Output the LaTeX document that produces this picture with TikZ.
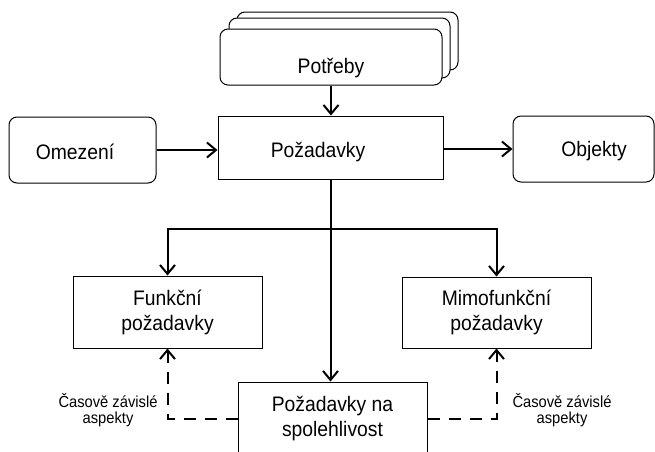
\documentclass[tikz,border=0pt]{standalone}
\usepackage{fontspec}
\setmainfont{Liberation Sans}[FakeStretch=0.92]
\usetikzlibrary{arrows.meta}
\tikzset{
  box/.style={draw=black, line width=1pt, fill=white, inner sep=0pt, align=center},
  rbox/.style={box, rounded corners=8pt},
  main/.style={font=\fontsize{21}{25}\selectfont},
  small/.style={font=\fontsize{16}{16.5}\selectfont, align=center, inner sep=0pt},
  arr/.style={line width=2pt, -{Straight Barb[length=9pt,width=15pt,line width=2pt]}},
  darr/.style={arr, dash pattern=on 12pt off 9pt},
}
\begin{document}
\begin{tikzpicture}[x=1pt, y=-1pt]
\clip (0,0) rectangle (655,451);
% Potreby stack
\node[rbox, minimum width=221pt, minimum height=58pt] (pot3) at (347.5,41) {};
\node[rbox, minimum width=221pt, minimum height=60pt] (pot2) at (339.5,48) {};
\node[rbox, minimum width=222pt, minimum height=56pt, label={[main, yshift=-11pt]center:Potřeby}] (pot) at (331,57) {};
% main row
\node[box, minimum width=225pt, minimum height=63pt, label={[main, xshift=-12.5pt, yshift=-5pt]center:Požadavky}] (req) at (330.5,147.5) {};
\node[rbox, main, minimum width=147pt, minimum height=66pt, label={[main, xshift=-7.5pt, yshift=-2pt]center:Omezení}] (om) at (82.5,150) {};
\node[rbox, minimum width=141pt, minimum height=66pt, label={[main, xshift=10.5pt, yshift=-2pt]center:Objekty}] (obj) at (583.5,149) {};
% second row
\node[box, main, minimum width=189pt, minimum height=72pt] (fun) at (167.5,312) {Funkční\\požadavky};
\node[box, main, minimum width=189pt, minimum height=71pt] (mim) at (496.5,312.5) {Mimofunkční\\požadavky};
\node[box, main, minimum width=189pt, minimum height=74pt] (sp) at (332.5,419) {Požadavky na\\spolehlivost};
% labels
\node[small] (lt1) at (108,410) {Časově závislé\\aspekty};
\node[small] (lt2) at (562,410) {Časově závislé\\aspekty};
% connectors
\draw[arr] (pot.south) -- (pot.south |- req.north);
\draw[arr] (om.east) -- (om.east -| req.west);
\draw[arr] (obj.west -| req.east) -- (obj.west);
\draw[arr] (req.south) -- (req.south |- sp.north);
\coordinate (br) at (330.5,228.5);
\draw[arr] (br) -| (fun.north);
\draw[arr] (br) -| (mim.north);
\draw[darr] (sp.west) -| (fun.south);
\draw[darr] (sp.east) -| (mim.south);
\end{tikzpicture}
\end{document}
